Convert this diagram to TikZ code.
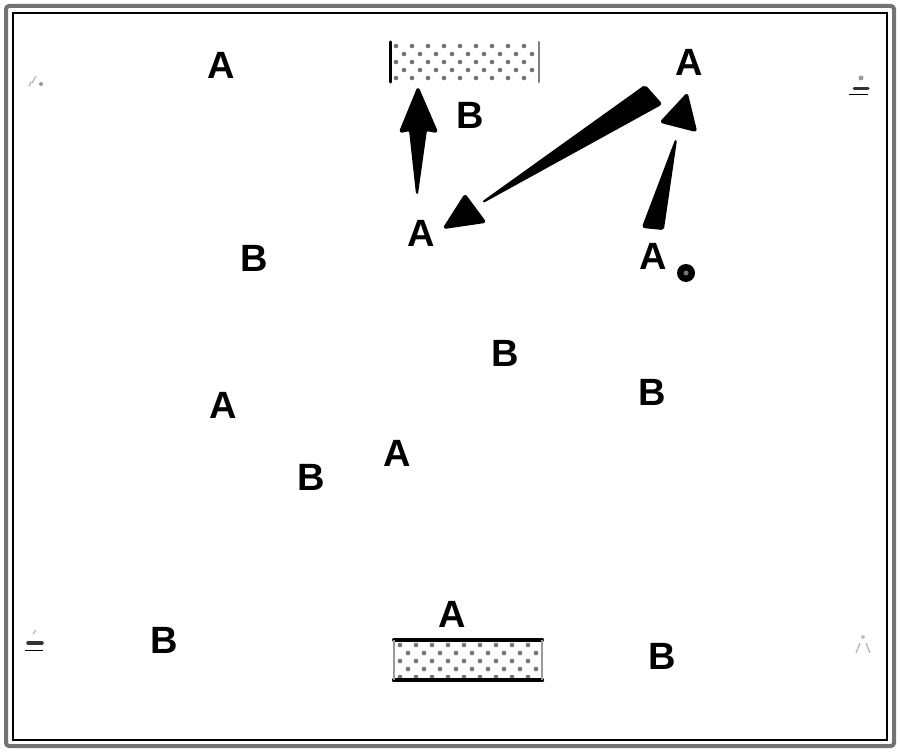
\documentclass[tikz,border=0pt]{standalone}
\usepackage{fontspec}
\setmainfont{Liberation Sans}
\begin{document}
\begin{tikzpicture}[x=1pt,y=-1pt,
  lbl/.style={font=\fontsize{38}{38}\selectfont\bfseries, inner sep=0pt},
  wedge/.style={fill=black, draw=black, line width=2pt, line join=round, rounded corners=2pt},
  faint/.style={draw=black!30, line width=1.2pt},
  dotbox/.style={minimum width=148pt, minimum height=40pt, inner sep=0pt}]
\useasboundingbox (0,0) rectangle (900,752);
% frame
\draw[black!55, line width=4pt, rounded corners=3pt] (6,6) rectangle (894,746);
\draw[black, line width=1.2pt] (13,13) rectangle (887,740);
% dotted rectangles
\node[dotbox] (r1) at (465,62) {};
\foreach \r in {0,...,4} {
  \pgfmathsetmacro{\off}{mod(\r,2)*8}
  \foreach \c in {0,...,8} {
    \fill[black!55] (396+\off+16*\c, 46+8*\r) circle (2.3pt);
  }
}
\draw[line width=3pt, line cap=round] (r1.north west) -- (r1.south west);
\draw[line width=2pt, black!50, line cap=round] (r1.north east) -- (r1.south east);
\node[dotbox] (r2) at (468,660) {};
\foreach \r in {0,...,4} {
  \pgfmathsetmacro{\off}{mod(\r,2)*8}
  \foreach \c in {0,...,8} {
    \fill[black!55] (400+\off+16*\c, 645+8*\r) circle (2.3pt);
  }
}
\draw[line width=3.5pt, line cap=round] (r2.north west) -- (r2.north east);
\draw[line width=4pt, line cap=round] (r2.south west) -- (r2.south east);
\draw[line width=1.5pt, black!40] (r2.north west) -- (r2.south west) (r2.north east) -- (r2.south east);
% labels
\node[lbl] (a1) at (221,65) {A};
\node[lbl] (b1) at (470,115) {B};
\node[lbl] (a2) at (689,62) {A};
\node[lbl] (a3) at (421,233) {A};
\node[lbl] (a4) at (653,256) {A};
\node[lbl] (b2) at (254,258) {B};
\node[lbl] (b3) at (505,353) {B};
\node[lbl] (b4) at (652,392) {B};
\node[lbl] (a5) at (223,405) {A};
\node[lbl] (a6) at (397,453) {A};
\node[lbl] (b5) at (311,477) {B};
\node[lbl] (b6) at (164,640) {B};
\node[lbl] (a7) at (452,614) {A};
\node[lbl] (b7) at (662,656) {B};
\node[circle, fill=black, minimum size=18pt, inner sep=0pt] (dot) at (686,273) {};
\node[circle, fill=black!55, minimum size=5pt, inner sep=0pt] at (686,273) {};
% arrows
\coordinate (t1) at (418,88);
\coordinate (t2) at (483,202);
\coordinate (t3) at (676,140);
% vertical arrow
\fill[wedge] (417,194) -- (410,130) -- (400,132) -- (t1) -- (437,132) -- (426,130) -- cycle;
% long wedge
\fill[wedge] (t2) -- (645,86) -- (661,104) -- cycle;
% small triangle
\fill[wedge] (444,228) -- (485,222) -- (465,195) -- cycle;
% right triangle
\fill[wedge] (661,122) -- (696,131) -- (687,94) -- cycle;
% right wedge
\fill[wedge] (643,227) -- (663,229) -- (t3) -- cycle;
% faint corner marks
\draw[faint] (32,83) -- (36,76) (29,86) -- (31,82);
\fill[black!40] (41,84) circle (2pt);
\fill[black!40] (861,78) circle (2.5pt);
\draw[black!80, line width=3pt, line cap=round] (854,89) -- (868,89);
\draw[black, line width=0.8pt] (849,94) -- (868,94);
\draw[faint] (33,634) -- (36,630);
\draw[black!80, line width=3.5pt, line cap=round] (28,643) -- (42,643);
\draw[black, line width=0.8pt] (25,650) -- (43,650);
\draw[faint] (856,653) -- (860,643) (866,643) -- (870,653);
\fill[black!25] (863,637) circle (2pt);
\end{tikzpicture}
\end{document}
